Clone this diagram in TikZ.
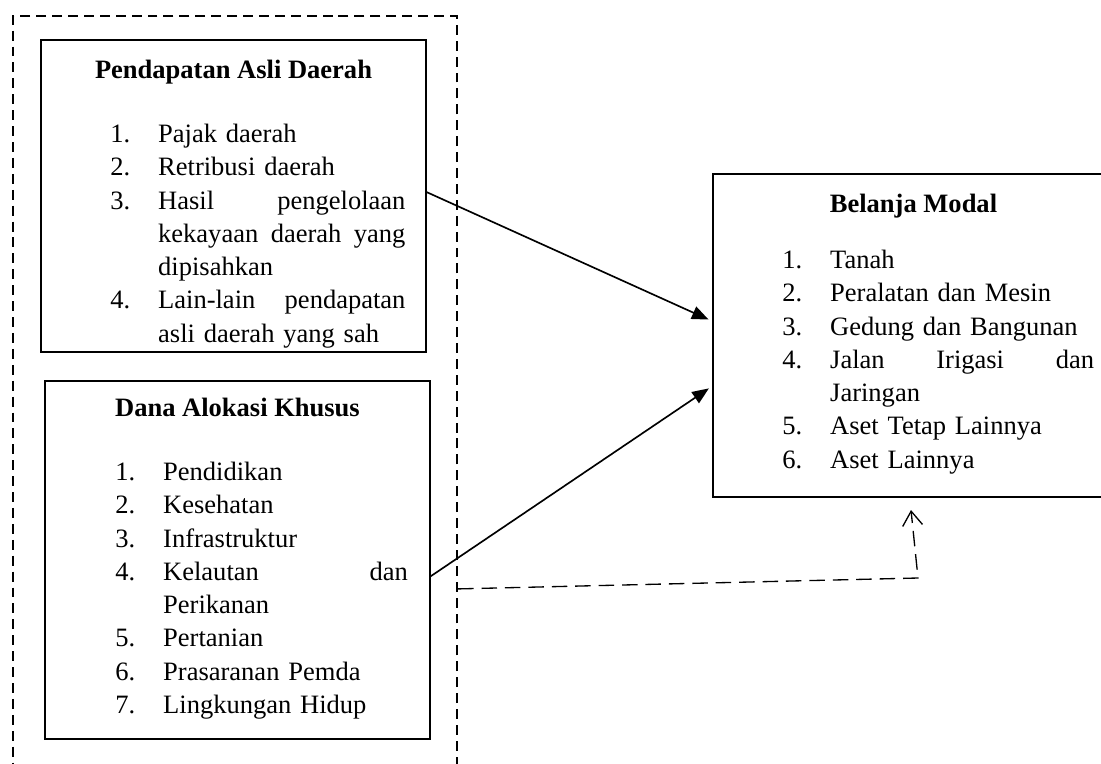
\documentclass[tikz,border=0pt]{standalone}
\usepackage{fontspec}
\setmainfont{Liberation Serif}
\usetikzlibrary{arrows.meta}
\usetikzlibrary{calc}
\usetikzlibrary{fit}

\newlength{\numw}
\setlength{\numw}{21.6pt}
\newcommand{\li}[2]{\par\hangindent=\numw\hangafter=1\noindent\makebox[\numw][l]{\strut #1}#2\par}

\begin{document}
\begin{tikzpicture}[x=.4525pt,y=-.4525pt,
  box/.style={draw, line width=.75pt, inner sep=0pt},
  frame/.style={draw, line width=1pt, dash pattern=on 4.5pt off 2.7pt, inner sep=0pt},
  title/.style={anchor=base, inner sep=0pt, font=\fontsize{12}{15.07}\selectfont\bfseries},
  items/.style={anchor=north west, inner sep=0pt, align=left, font=\fontsize{12}{15.07}\selectfont},
  flow/.style={-{Triangle[length=7.5pt,width=6pt]}, line width=.75pt, shorten >=1.8pt},
  link/.style={-{Straight Barb[length=6.5pt,width=9pt]}, line width=.6pt, dash pattern=on 7pt off 3.6pt}]
\useasboundingbox (0,0) rectangle (1101,763);
\clip (0,0) rectangle (1101,763);

\node[frame, fit={(13,16) (457,800)}] (grp) {}; % dashed group, runs off the bottom

% Pendapatan Asli Daerah
\node[box, fit={(41,40) (426,352)}] (pad) {};
\node[title] (padT) at (233.5,78) {Pendapatan Asli Daerah};
\node[items, text width=133.5pt] (padL) at (110,108.7) {\li{1.}{Pajak daerah}\li{2.}{Retribusi daerah}\li{3.}{Hasil\hfill pengelolaan\newline kekayaan\hfill daerah\hfill yang\newline dipisahkan}\li{4.}{Lain-lain\hfill pendapatan\newline asli daerah yang sah}};

% Dana Alokasi Khusus
\node[box, fit={(45,381) (430,739)}] (dak) {};
\node[title] (dakT) at (237.5,416) {Dana Alokasi Khusus};
\node[items, text width=132.3pt] (dakL) at (115,446.7) {\li{1.}{Pendidikan}\li{2.}{Kesehatan}\li{3.}{Infrastruktur}\li{4.}{Kelautan\hfill dan\newline Perikanan}\li{5.}{Pertanian}\li{6.}{Prasaranan Pemda}\li{7.}{Lingkungan Hidup}};

% Belanja Modal (cut off on the right)
\node[box, fit={(713,174) (1114,497)}] (bm) {};
\node[title] (bmT) at (913.5,212) {Belanja Modal};
\node[items, text width=141pt] (bmL) at (782,234.7) {\li{1.}{Tanah}\li{2.}{Peralatan dan Mesin}\li{3.}{Gedung dan Bangunan}\li{4.}{Jalan\hfill Irigasi\hfill dan\newline Jaringan}\li{5.}{Aset Tetap Lainnya}\li{6.}{Aset Lainnya}};

\draw[flow] ($(pad.north east)+(0,153)$) -- ($(bm.north west)+(0,148)$); % PAD -> BM
\draw[flow] ($(dak.north east)+(0,196)$) -- ($(bm.north west)+(0,213)$); % DAK -> BM

\coordinate (bend) at (918,578);
\coordinate (tip) at (911,510);
\draw[link] ($(grp.north east)+(0,574)$) -- (bend) -- (tip); % joint effect
\end{tikzpicture}
\end{document}
